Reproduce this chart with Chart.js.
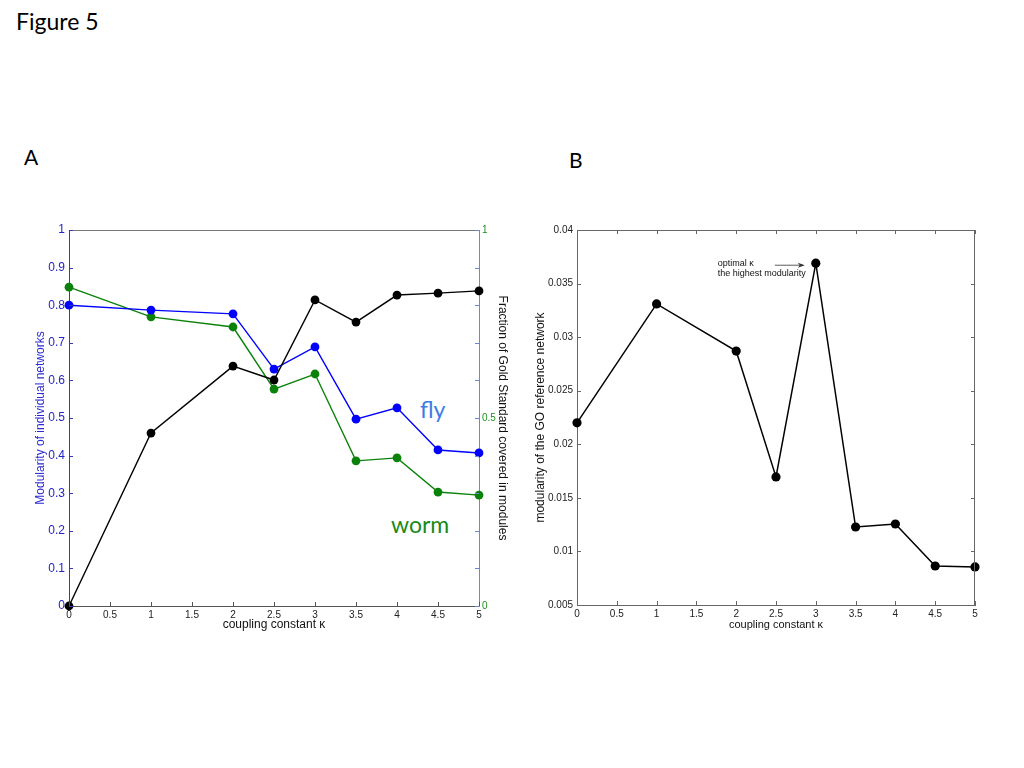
<!DOCTYPE html>
<html>
<head>
<meta charset="utf-8">
<script src="https://cdn.jsdelivr.net/npm/chart.js@4.4.1/dist/chart.umd.min.js"></script>
<style>
  body { margin: 0; background: #fff; width: 1024px; height: 768px; position: relative; overflow: hidden; font-family: Lato, "Open Sans", sans-serif; }
  .lbl { position: absolute; line-height: 1; white-space: nowrap; }
  .box { position: absolute; }
</style>
</head>
<body>
<div class="lbl" style="left:16px; top:10px; font-size:23px; color:#000;">Figure 5</div>
<div class="lbl" style="left:24px; top:146px; font-size:21px; color:#000;">A</div>
<div class="lbl" style="left:569px; top:149px; font-size:21px; color:#000;">B</div>
<div class="lbl" style="left:420px; top:398px; font-size:23px; color:#3b7de3;">fly</div>
<div class="lbl" style="left:391px; top:513px; font-size:23px; color:#178a17;">worm</div>

<div class="box" style="left:29px; top:200px; width:485px; height:436px;"><canvas id="chartA" width="485" height="436"></canvas></div>
<div class="box" style="left:529px; top:200px; width:461px; height:436px;"><canvas id="chartB" width="461" height="436"></canvas></div>

<script>
// coupling constant values (x)
const kappa = [0, 1, 2, 2.5, 3, 3.5, 4, 4.5, 5];

// panel A
const flyModularity = [0.80, 0.787, 0.777, 0.63, 0.689, 0.497, 0.527, 0.415, 0.407];
const wormModularity = [0.848, 0.769, 0.742, 0.577, 0.617, 0.386, 0.394, 0.303, 0.295];
const goldFraction = [0, 0.46, 0.638, 0.601, 0.814, 0.755, 0.827, 0.832, 0.838];

// panel B
const goModularity = [0.0220, 0.0331, 0.0287, 0.01695, 0.0369, 0.01228, 0.01256, 0.00864, 0.00855];

const rightTickLabels = [0, 0.5, 1];

const pts = (ys) => kappa.map((x, i) => ({ x: x, y: ys[i] }));
const fmt = (v) => String(+Number(v).toFixed(4));

// ticks pointing into the plot area, plus frame lines
const inwardTicks = {
  id: 'inwardTicks',
  afterDraw(chart, args, opts) {
    const ctx = chart.ctx;
    const a = chart.chartArea;
    const len = 4;
    ctx.save();
    ctx.lineWidth = 1;
    (opts.frame || []).forEach(f => {
      ctx.strokeStyle = f.color;
      ctx.beginPath();
      if (f.edge === 'top') { ctx.moveTo(a.left, a.top + 0.5); ctx.lineTo(a.right, a.top + 0.5); }
      if (f.edge === 'right') { ctx.moveTo(a.right - 0.5, a.top); ctx.lineTo(a.right - 0.5, a.bottom); }
      ctx.stroke();
    });
    (opts.sides || []).forEach(s => {
      const scale = chart.scales[s.scale];
      ctx.strokeStyle = s.color;
      scale.ticks.forEach(t => {
        const p = Math.round(scale.getPixelForValue(t.value)) + 0.5;
        ctx.beginPath();
        if (s.edge === 'bottom') { ctx.moveTo(p, a.bottom); ctx.lineTo(p, a.bottom - len); }
        if (s.edge === 'top') { ctx.moveTo(p, a.top); ctx.lineTo(p, a.top + len); }
        if (s.edge === 'left') { ctx.moveTo(a.left, p); ctx.lineTo(a.left + len, p); }
        if (s.edge === 'right') { ctx.moveTo(a.right, p); ctx.lineTo(a.right - len, p); }
        ctx.stroke();
      });
    });
    ctx.restore();
  }
};

// "optimal kappa" note next to the peak
const peakNote = {
  id: 'peakNote',
  afterDatasetsDraw(chart) {
    const meta = chart.getDatasetMeta(0);
    const peak = meta.data[4];
    const ctx = chart.ctx;
    ctx.save();
    ctx.fillStyle = '#111';
    ctx.font = '9px "Liberation Sans", Arial, sans-serif';
    ctx.textBaseline = 'middle';
    ctx.fillText('optimal \u03ba', peak.x - 98, peak.y);
    ctx.fillText('the highest modularity', peak.x - 98, peak.y + 10);
    ctx.strokeStyle = '#333';
    ctx.lineWidth = 0.8;
    ctx.beginPath();
    ctx.moveTo(peak.x - 41, peak.y + 2);
    ctx.lineTo(peak.x - 13, peak.y + 2);
    ctx.stroke();
    ctx.fillStyle = '#333';
    ctx.beginPath();
    ctx.moveTo(peak.x - 11, peak.y + 2);
    ctx.lineTo(peak.x - 18, peak.y - 0.5);
    ctx.lineTo(peak.x - 16, peak.y + 2);
    ctx.lineTo(peak.x - 18, peak.y + 4.5);
    ctx.closePath();
    ctx.fill();
    ctx.restore();
  }
};

const fontFam = '"Liberation Sans", Arial, sans-serif';
const noGrid = { display: false, drawTicks: false };

new Chart(document.getElementById('chartA'), {
  type: 'line',
  data: {
    datasets: [
      {
        label: 'Gold Standard',
        data: pts(goldFraction),
        yAxisID: 'y1',
        borderColor: '#000',
        backgroundColor: '#000',
        borderWidth: 1.4,
        pointRadius: 4.4,
        pointBorderWidth: 0,
        clip: false
      },
      {
        label: 'fly',
        data: pts(flyModularity),
        yAxisID: 'y',
        borderColor: '#0000ff',
        backgroundColor: '#0000ff',
        borderWidth: 1.4,
        pointRadius: 4.4,
        pointBorderWidth: 0,
        clip: false
      },
      {
        label: 'worm',
        data: pts(wormModularity),
        yAxisID: 'y',
        borderColor: '#0a820a',
        backgroundColor: '#0a820a',
        borderWidth: 1.4,
        pointRadius: 4.4,
        pointBorderWidth: 0,
        clip: false
      }
    ]
  },
  options: {
    responsive: false,
    animation: false,
    layout: { padding: { top: 30, left: 0, right: 0, bottom: 0 } },
    plugins: {
      legend: { display: false },
      tooltip: { enabled: false },
      inwardTicks: {
        frame: [{ edge: 'top', color: '#777' }],
        sides: [
          { scale: 'x', edge: 'bottom', color: '#555' },
          { scale: 'y', edge: 'left', color: '#3a3ab0' },
          { scale: 'y1', edge: 'right', color: '#6f86d6' }
        ]
      }
    },
    scales: {
      x: {
        type: 'linear',
        min: 0, max: 5,
        afterFit: (s) => { s.height = 30; },
        ticks: { stepSize: 0.5, padding: 3, color: '#222', font: { family: fontFam, size: 10 }, callback: fmt },
        grid: noGrid,
        border: { display: true, color: '#555', width: 1 },
        title: { display: true, text: 'coupling constant \u03ba', color: '#111', font: { family: fontFam, size: 12 }, padding: { top: 0, bottom: 4 } }
      },
      y: {
        position: 'left',
        min: 0, max: 1,
        afterFit: (s) => { s.width = 40; },
        ticks: { stepSize: 0.1, padding: 4, color: '#2424c8', font: { family: fontFam, size: 12 }, callback: fmt },
        grid: noGrid,
        border: { display: true, color: '#3a3ab0', width: 1 },
        title: { display: true, text: 'Modularity of individual networks', color: '#2a2ad0', font: { family: fontFam, size: 12 }, padding: { top: 4, bottom: 0 } }
      },
      y1: {
        position: 'right',
        min: 0, max: 1,
        afterFit: (s) => { s.width = 35; },
        ticks: {
          stepSize: 0.1, padding: 3, color: '#1f8f1f', font: { family: fontFam, size: 10 },
          callback: (v) => rightTickLabels.some(r => Math.abs(r - v) < 1e-6) ? fmt(v) : ''
        },
        grid: noGrid,
        border: { display: true, color: '#6f86d6', width: 1 },
        title: { display: true, text: 'Fraction of Gold Standard covered in modules', color: '#111', font: { family: fontFam, size: 12 }, padding: { top: 4, bottom: 0 } }
      }
    }
  },
  plugins: [inwardTicks]
});

new Chart(document.getElementById('chartB'), {
  type: 'line',
  data: {
    datasets: [
      {
        label: 'GO reference network',
        data: pts(goModularity),
        borderColor: '#000',
        backgroundColor: '#000',
        borderWidth: 1.5,
        pointRadius: 4.6,
        pointBorderWidth: 0,
        clip: false
      }
    ]
  },
  options: {
    responsive: false,
    animation: false,
    layout: { padding: { top: 30, left: 0, right: 15, bottom: 0 } },
    plugins: {
      legend: { display: false },
      tooltip: { enabled: false },
      inwardTicks: {
        frame: [{ edge: 'top', color: '#666' }, { edge: 'right', color: '#666' }],
        sides: [
          { scale: 'x', edge: 'bottom', color: '#666' },
          { scale: 'x', edge: 'top', color: '#666' },
          { scale: 'y', edge: 'left', color: '#666' },
          { scale: 'y', edge: 'right', color: '#666' }
        ]
      }
    },
    scales: {
      x: {
        type: 'linear',
        min: 0, max: 5,
        afterFit: (s) => { s.height = 31; },
        ticks: { stepSize: 0.5, padding: 3, color: '#222', font: { family: fontFam, size: 10 }, callback: fmt },
        grid: noGrid,
        border: { display: true, color: '#666', width: 1 },
        title: { display: true, text: 'coupling constant \u03ba', color: '#111', font: { family: fontFam, size: 11 }, padding: { top: 0, bottom: 4 } }
      },
      y: {
        min: 0.005, max: 0.04,
        afterFit: (s) => { s.width = 48; },
        ticks: { stepSize: 0.005, padding: 4, color: '#222', font: { family: fontFam, size: 10 }, callback: fmt },
        grid: noGrid,
        border: { display: true, color: '#666', width: 1 },
        title: { display: true, text: 'modularity of the GO reference network', color: '#111', font: { family: fontFam, size: 12 }, padding: { top: 4, bottom: 0 } }
      }
    }
  },
  plugins: [inwardTicks, peakNote]
});
</script>
</body>
</html>
